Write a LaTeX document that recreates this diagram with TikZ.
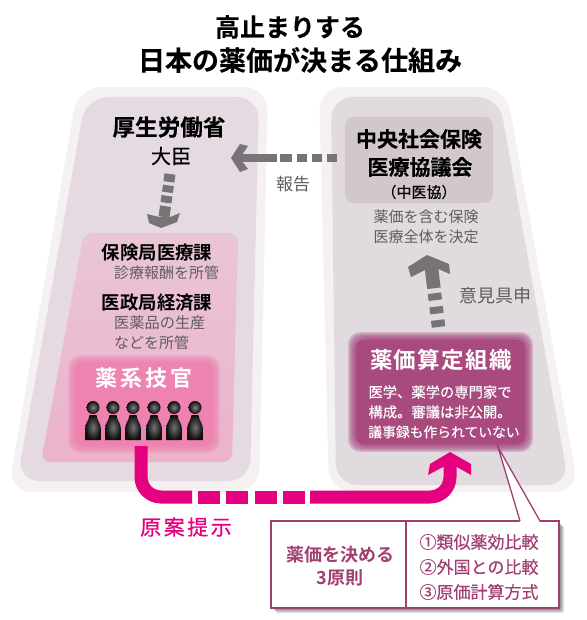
\documentclass[tikz,border=0pt]{standalone}
\usepackage{fontspec}
\setmainfont{Noto Sans CJK JP}[BoldFont={Noto Sans CJK JP Bold}]
\usetikzlibrary{calc}
\definecolor{panelout}{HTML}{F5F1F3}
\definecolor{panelL}{HTML}{E5DAE2}
\definecolor{panelR}{HTML}{E1DBE0}
\definecolor{kyobox}{HTML}{D1C7CD}
\definecolor{pinkT}{HTML}{E9C6D5}
\definecolor{pinkB}{HTML}{ECB2CA}
\definecolor{gikanC}{HTML}{EE83B2}
\definecolor{santeiC}{HTML}{A94A7E}
\definecolor{magenta}{HTML}{E4007F}
\definecolor{arrowgray}{HTML}{767476}
\definecolor{graytxt}{HTML}{5F5C5E}
\definecolor{linecol}{HTML}{A23F72}
\newcommand{\fs}[1]{\fontsize{#1}{#1}\selectfont}
\newcommand{\med}{\addfontfeature{FakeBold=0.35}}
\newcommand{\hvy}{\addfontfeature{FakeBold=0.25}}
\newcommand{\softbox}[6]{% name, x1,y1,x2,y2, colour
  \foreach \i in {0,1,...,7}{
    \fill[#6,opacity=0.22,rounded corners=12pt]
      ({#2+\i},{#3+\i}) rectangle ({#4-\i},{#5-\i});
  }
  \node[fill=#6,rounded corners=7pt,inner sep=0pt,
        minimum width={(#4-#2-16)*1pt},minimum height={(#5-#3-16)*1pt}]
        (#1) at ({(#2+#4)/2},{(#3+#5)/2}) {};
}
\tikzset{
  txt/.style={inner sep=0pt,anchor=center},
  graytx/.style={txt,text=graytxt},
  whitetx/.style={txt,text=white},
  rosetx/.style={txt,text=linecol},
  grayline/.style={draw=arrowgray,line cap=butt},
  magline/.style={draw=magenta,line width=13pt,line cap=butt},
}
\begin{document}
\begin{tikzpicture}[x=1pt,y=-1pt]
\useasboundingbox (0,0) rectangle (586,620);
\fill[white] (0,0) rectangle (586,620);

% title
\node[txt,font=\bfseries\fs{25}\hvy] (t1) at (290,27) {高止まりする};
\node[txt,font=\bfseries\fs{27}\hvy] (t2) at (300,60) {日本の薬価が決まる仕組み};

% panels
\fill[panelout,rounded corners=24pt] (78,87) -- (268,87) -- (259,492) -- (8,492) -- cycle;
\fill[panelL,rounded corners=22pt] (86,97) -- (259,97) -- (250,481) -- (17,481) -- cycle;
\fill[panelout,rounded corners=24pt] (319,87) -- (506,87) -- (579,492) -- (329,492) -- cycle;
\fill[panelR,rounded corners=22pt] (331,97) -- (499,97) -- (569,485) -- (336,485) -- cycle;

% pink box
\shade[top color=pinkT,bottom color=pinkB,rounded corners=9pt] (84,233) -- (238,233) -- (232,462) -- (41,462) -- cycle;

% gikan box
\softbox{gikan}{68}{355}{220}{453}{gikanC}
% santei box
\softbox{santei}{348}{332}{533}{452}{santeiC}
% kyogikai box
\node[fill=kyobox,rounded corners=9pt,inner sep=0pt,minimum width=148pt,minimum height=86pt] (kyo) at (419,160) {};

% people
\foreach \x in {93,113,133,154,174,195}{
  \shade[inner color=black!50,outer color=black!95] (\x,407.5) circle (6.5);
  \shade[inner color=black!55,outer color=black!95]
    (\x-7.8,440) -- (\x-7.8,428) .. controls (\x-7.8,423) and (\x-4,421) .. (\x-3.5,415)
    -- (\x+3.5,415) .. controls (\x+4,421) and (\x+7.8,423) .. (\x+7.8,428) -- (\x+7.8,440) -- cycle;
}

% left texts
\node[txt,font=\bfseries\fs{22.6}\hvy] (mhlw) at (169,127) {厚生労働省};
\node[txt,font=\fs{20}\med] (daijin) at (171,156) {大臣};
\node[txt,font=\bfseries\fs{18.4}] (hoken) at (157,253) {保険局医療課};
\node[graytx,font=\fs{15},anchor=west] (shin) at (114,273) {診療報酬を所管};
\node[txt,font=\bfseries\fs{18.4}] (isei) at (157,303) {医政局経済課};
\node[graytx,font=\fs{15.2},anchor=west] (iy) at (114,323) {医薬品の生産};
\node[graytx,font=\fs{15},anchor=west] (nado) at (114,343) {などを所管};
\node[whitetx,font=\bfseries\fs{22}\addfontfeature{LetterSpace=14}] (yk) at (144,378) {薬系技官};

% right texts
\node[txt,font=\bfseries\fs{21}\hvy] (c1) at (419,139) {中央社会保険};
\node[txt,font=\bfseries\fs{21}\hvy] (c2) at (420,167) {医療協議会};
\node[txt,font=\fs{15}\med] (c3) at (419,192) {（中医協）};
\node[graytx,font=\fs{15}] (c4) at (426,217) {薬価を含む保険};
\node[graytx,font=\fs{15}] (c5) at (426,237) {医療全体を決定};
\node[graytx,font=\fs{18}] (iken) at (495,296) {意見具申};
\node[graytx,font=\fs{17}] (hou) at (293,184) {報告};

\node[whitetx,font=\bfseries\fs{22.5}\addfontfeature{LetterSpace=6}] (s0) at (441,360) {薬価算定組織};
\node[whitetx,font=\fs{14.3}\med] (s1) at (440,392) {医学、薬学の専門家で};
\node[whitetx,font=\fs{14.3}\med] (s2) at (440,412) {構成。審議は非公開。};
\node[whitetx,font=\fs{13.8}\med] (s3) at (444,432) {議事録も作られていない};

% gray arrows
\coordinate (la) at (337,158);
\coordinate (lb) at (280,158);
\coordinate (lc) at (277,158);
\draw[grayline,line width=7.5pt,dash pattern=on 10pt off 5pt on 10pt off 5pt on 10pt off 5pt on 12pt off 5pt] (la) -- (lb);
\draw[grayline,line width=7.5pt] (lc) -- (240,158);
\fill[arrowgray] (231,158) -- (240,144) -- (248,146) -- (242,155) -- (242,161) -- (248,169) -- (240,172) -- cycle;

\coordinate (da) at (170,174);
\coordinate (db) at (164,217);
\draw[grayline,line width=11pt,dash pattern=on 8pt off 3.5pt on 7pt off 3.5pt on 7pt off 3.5pt on 30pt off 0pt] (da) -- (db);
\fill[arrowgray] (161,228) -- (149,223) -- (147,214) -- (159,217) -- (170,217) -- (180,213) -- (177,222) -- cycle;

\coordinate (ua) at (438.5,327);
\coordinate (ub) at (431.5,268);
\draw[grayline,line width=13.5pt,dash pattern=on 7pt off 6.5pt on 7pt off 6.5pt on 7pt off 5pt on 100pt off 0pt] (ua) -- (ub);
\fill[arrowgray] (427,255) -- (449,264) -- (450,274) -- (438,269) -- (425,270) -- (411,277) -- (408,267) -- cycle;

% magenta arrow
\coordinate (ma) at (141,446);
\coordinate (mb) at (192,497);
\coordinate (mc) at (310,497);
\coordinate (md) at (450,466);
\draw[magline,rounded corners=20pt] (ma) -- (ma |- mb) -- (mb);
\draw[magline,dash pattern=on 22pt off 6.3pt on 22pt off 6.3pt on 22pt off 6.3pt on 22pt off 6.3pt] (198,497) -- (305,497);
\draw[magline,rounded corners=20pt] (mc) -- (md |- mc) -- (md);
\fill[magenta] (450,452) -- (471,464) -- (471,475) -- (457,467) -- (443,467) -- (428,475) -- (430,464) -- cycle;
\node[txt,text=magenta,font=\fs{21}\med\addfontfeature{LetterSpace=12}] (gen) at (186,527) {原案提示};

% principle box
\foreach \i in {1,2,3,4,5}{
  \fill[black,opacity=0.11,rounded corners=2pt] ({271+\i},{521+\i}) rectangle ({559+\i},{608+\i});
}
\node[draw=linecol,line width=1.3pt,fill=white,inner sep=0pt,minimum width=288pt,minimum height=87pt] (box) at (415,564.5) {};
\draw[linecol,line width=1.3pt] (406,521) -- (406,608);
\coordinate (tip) at (498,447);
\coordinate (cl) at (520,521);
\coordinate (cr) at (540,521);
\fill[white] (tip) -- ($(cl)+(0,1.5)$) -- ($(cr)+(0,1.5)$) -- cycle;
\draw[linecol,line width=1.3pt] (cl) -- (tip) -- (cr);

\node[rosetx,font=\bfseries\fs{18}] (p1) at (340,555) {薬価を決める};
\node[rosetx,font=\bfseries\fs{18}] (p2) at (340,578) {3原則};
\node[rosetx,font=\fs{17}\med] (r1) at (479,542) {①類似薬効比較};
\node[rosetx,font=\fs{17}\med] (r2) at (479,567) {②外国との比較};
\node[rosetx,font=\fs{17}\med] (r3) at (479,592) {③原価計算方式};
\end{tikzpicture}
\end{document}
